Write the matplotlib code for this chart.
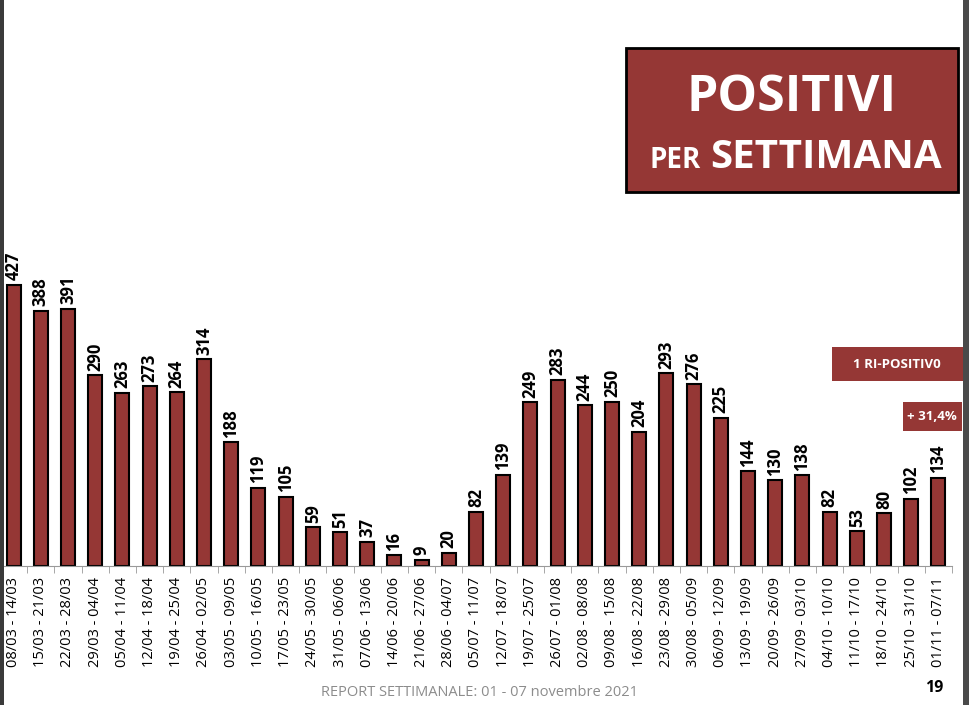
import numpy as np
import matplotlib.pyplot as plt
from matplotlib.patches import Rectangle

plt.rcParams['font.family'] = ['Open Sans', 'DejaVu Sans']

weeks = ['08/03 - 14/03', '15/03 - 21/03', '22/03 - 28/03', '29/03 - 04/04', '05/04 - 11/04',
         '12/04 - 18/04', '19/04 - 25/04', '26/04 - 02/05', '03/05 - 09/05', '10/05 - 16/05',
         '17/05 - 23/05', '24/05 - 30/05', '31/05 - 06/06', '07/06 - 13/06', '14/06 - 20/06',
         '21/06 - 27/06', '28/06 - 04/07', '05/07 - 11/07', '12/07 - 18/07', '19/07 - 25/07',
         '26/07 - 01/08', '02/08 - 08/08', '09/08 - 15/08', '16/08 - 22/08', '23/08 - 29/08',
         '30/08 - 05/09', '06/09 - 12/09', '13/09 - 19/09', '20/09 - 26/09', '27/09 - 03/10',
         '04/10 - 10/10', '11/10 - 17/10', '18/10 - 24/10', '25/10 - 31/10', '01/11 - 07/11']
positivi = [427, 388, 391, 290, 263, 273, 264, 314, 188, 119, 105, 59, 51, 37, 16, 9, 20, 82,
            139, 249, 283, 244, 250, 204, 293, 276, 225, 144, 130, 138, 82, 53, 80, 102, 134]

red = '#953735'

fig = plt.figure(figsize=(9.7, 7.05), dpi=100)
# axes: baseline at y=566px, 0.658 px per unit
ax = fig.add_axes([0.0, 139 / 705, 952 / 970, 440 * 0.658 / 705])

x = np.arange(len(weeks))
bars = ax.bar(x, positivi, width=0.52, color=red, edgecolor='black', linewidth=1.5)
for xi, v in zip(x, positivi):
    ax.text(xi, v + 7, str(v), rotation=90, ha='center', va='bottom',
            fontsize=12, fontweight='bold', clip_on=False)

ax.set_xlim(-0.37, 34.5)
ax.set_ylim(0, 440)
ax.set_xticks(x)
ax.set_xticklabels(weeks, rotation=90, fontsize=10.5)
ax.tick_params(axis='x', length=0, pad=8)
ax.set_xticks(np.arange(-0.5, 35, 1), minor=True)
ax.tick_params(axis='x', which='minor', length=5, color='#999999')
ax.set_yticks([])
for s in ['top', 'right', 'left']:
    ax.spines[s].set_visible(False)
ax.spines['bottom'].set_color('#999999')

# title box
fig.patches.append(Rectangle((626 / 970, 1 - 192 / 705), 332 / 970, 144 / 705,
                             transform=fig.transFigure, facecolor=red, edgecolor='black',
                             linewidth=2))
fig.text(792 / 970, 1 - 98 / 705, 'POSITIVI', color='white', fontsize=36,
         fontweight='bold', ha='center', va='center')
fig.text(701 / 970, 1 - 160 / 705, 'PER', color='white', fontsize=20,
         fontweight='bold', ha='right', va='center')
fig.text(710 / 970, 1 - 158 / 705, 'SETTIMANA', color='white', fontsize=29,
         fontweight='bold', ha='left', va='center')

# side notes
fig.patches.append(Rectangle((832 / 970, 1 - 381 / 705), 131 / 970, 34 / 705,
                             transform=fig.transFigure, facecolor=red, edgecolor='none'))
fig.text(897 / 970, 1 - 364 / 705, '1 RI-POSITIV0', color='white', fontsize=9.5,
         fontweight='bold', ha='center', va='center')
fig.patches.append(Rectangle((903 / 970, 1 - 431 / 705), 59 / 970, 29 / 705,
                             transform=fig.transFigure, facecolor=red, edgecolor='none'))
fig.text(932 / 970, 1 - 417 / 705, '+ 31,4%', color='white', fontsize=9.5,
         fontweight='bold', ha='center', va='center')

# footer
fig.text(480 / 970, 1 - 693 / 705, 'REPORT SETTIMANALE: 01 - 07 novembre 2021',
         color='#8c8c8c', fontsize=10.5, ha='center', va='center')
fig.text(934 / 970, 1 - 688 / 705, '19', color='black', fontsize=11.5,
         fontweight='bold', ha='center', va='center')

# screenshot edges
fig.patches.append(Rectangle((0, 0), 4 / 970, 1, transform=fig.transFigure,
                             facecolor='#3a3a3a', edgecolor='none'))
fig.patches.append(Rectangle((963 / 970, 0), 7 / 970, 1, transform=fig.transFigure,
                             facecolor='#4a4a4a', edgecolor='none'))

fig.savefig('out.png', dpi=100)
